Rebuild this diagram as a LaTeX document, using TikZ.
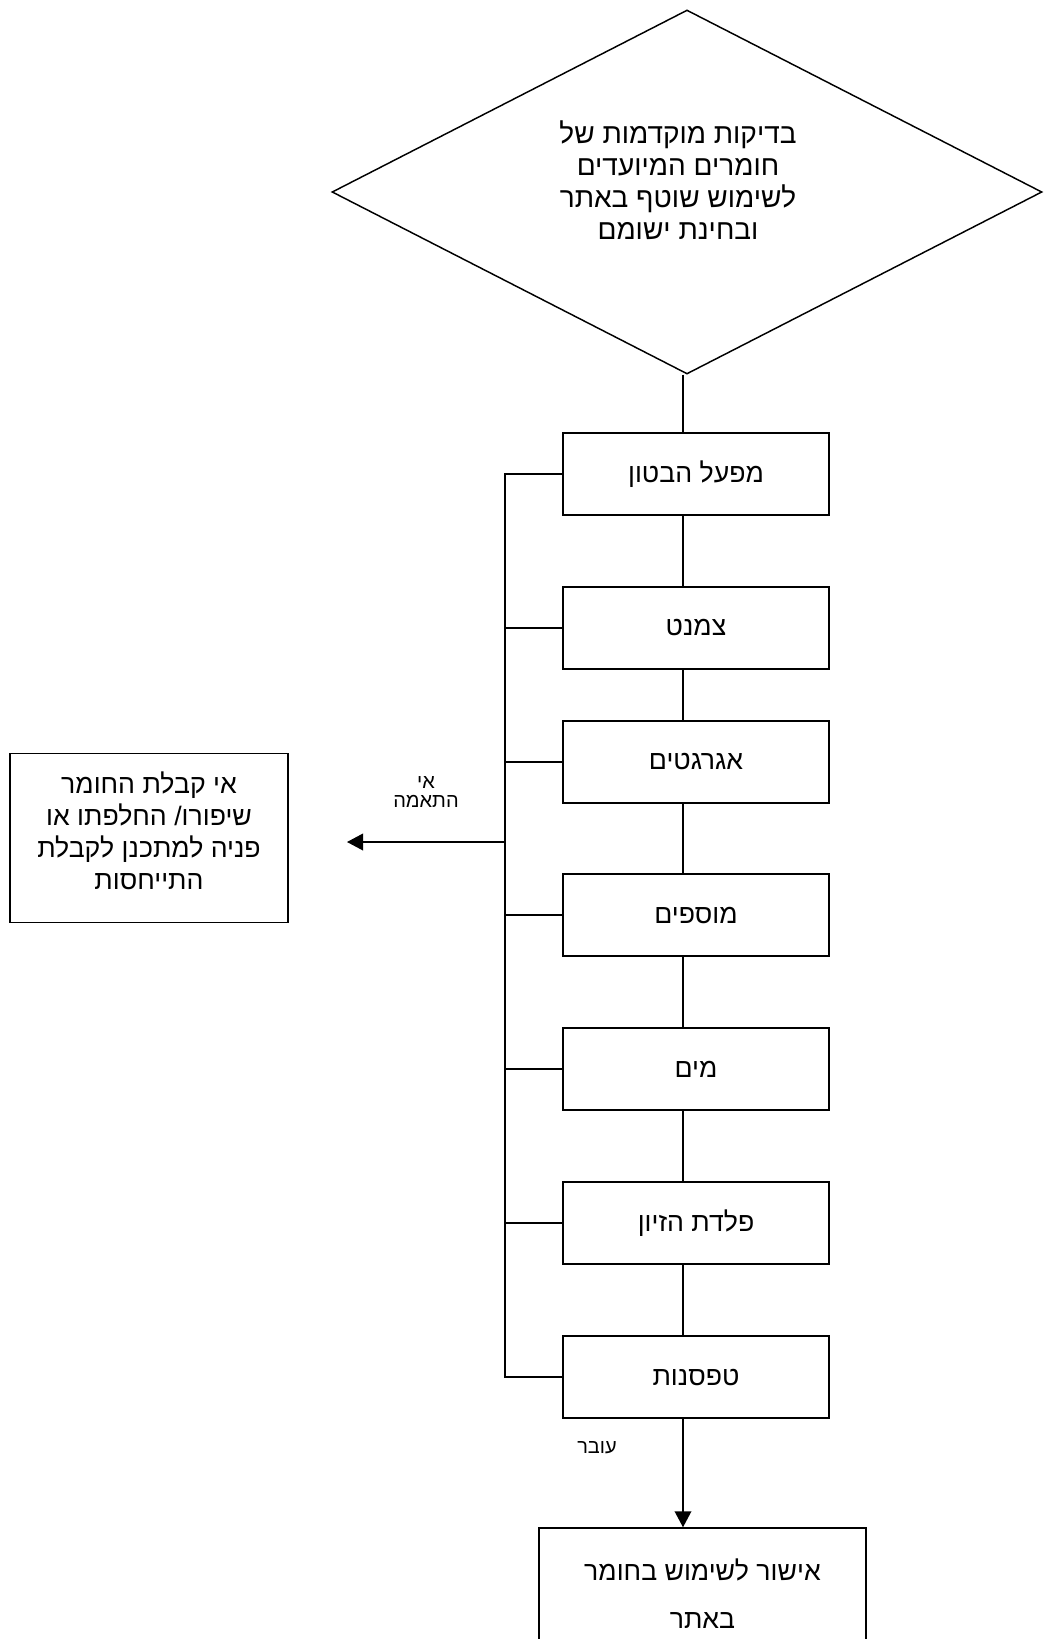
\documentclass[tikz,border=0pt]{standalone}
\usepackage{fontspec}
\newfontfamily\hebfont[Script=Hebrew]{Liberation Sans}
\TeXXeTstate=1
\newcommand{\hebline}[1]{\beginR #1\endR}
\usetikzlibrary{shapes.geometric,arrows.meta}
\tikzset{
  decision/.style={draw,shape=diamond,inner sep=0pt,minimum width=532.5pt,minimum height=273pt},
  stagebox/.style={draw,minimum width=199.5pt,minimum height=61.5pt,align=center,font=\hebfont\fontsize{20}{24}\selectfont},
  note/.style={draw,minimum width=208.5pt,minimum height=126.75pt},
  txt/.style={align=center,font=\hebfont\fontsize{20}{24}\selectfont},
  lbl/.style={align=center,inner sep=1pt,font=\hebfont\fontsize{15}{14.5}\selectfont},
  flow/.style={-{Triangle[length=12pt,width=12.5pt]}}
}
\begin{document}
\begin{tikzpicture}[x=0.75pt,y=-0.75pt,line width=1.1pt]
\useasboundingbox (0,0) rectangle (1043,1639);
% check
\node[decision] (chk) at (687,192) {};
\node[txt,font=\hebfont\fontsize{21}{24}\selectfont] (chktext) at (678,180) {\hebline{בדיקות מוקדמות של}\\\hebline{חומרים המיועדים}\\\hebline{לשימוש שוטף באתר}\\\hebline{ובחינת ישומם}};
% materials
\node[stagebox] (b1) at (696,474) {\hebline{מפעל הבטון}};
\node[stagebox] (b2) at (696,628) {\hebline{צמנט}};
\node[stagebox] (b3) at (696,762) {\hebline{אגרגטים}};
\node[stagebox] (b4) at (696,915) {\hebline{מוספים}};
\node[stagebox] (b5) at (696,1069) {\hebline{מים}};
\node[stagebox] (b6) at (696,1223) {\hebline{פלדת הזיון}};
\node[stagebox] (b7) at (696,1377) {\hebline{טפסנות}};
\coordinate (spine) at (683,400);
\coordinate (bus) at (505,474);
\draw (chk.south -| spine) -- (b1.north -| spine);
\draw (b1.south -| spine) -- (b2.north -| spine);
\draw (b2.south -| spine) -- (b3.north -| spine);
\draw (b3.south -| spine) -- (b4.north -| spine);
\draw (b4.south -| spine) -- (b5.north -| spine);
\draw (b5.south -| spine) -- (b6.north -| spine);
\draw (b6.south -| spine) -- (b7.north -| spine);
% mismatch bus
\draw (b1.west) -- (b1.west -| bus) -- (b7.west -| bus) -- (b7.west);
\draw (b2.west) -- (b2.west -| bus);
\draw (b3.west) -- (b3.west -| bus);
\draw (b4.west) -- (b4.west -| bus);
\draw (b5.west) -- (b5.west -| bus);
\draw (b6.west) -- (b6.west -| bus);
\coordinate (misend) at (347,842);
\draw[flow] (misend -| bus) -- (misend);
\node[lbl] (mislbl) at (426,792) {\hebline{אי}\\\hebline{התאמה}};
\node[note] (rej) at (149,838) {};
\node[txt] (rejtext) at (149,831) {\hebline{אי קבלת החומר}\\\hebline{שיפורו/ החלפתו או}\\\hebline{פניה למתכנן לקבלת}\\\hebline{התייחסות}};
% approval
\node[stagebox,minimum width=245.25pt,minimum height=99pt] (ok) at (702.5,1594) {\hebline{אישור לשימוש בחומר}\\[12pt]\hebline{באתר}};
\draw[flow] (b7.south -| spine) -- (ok.north -| spine);
\node[lbl] (passlbl) at (597,1448) {\hebline{עובר}};
\end{tikzpicture}
\end{document}
